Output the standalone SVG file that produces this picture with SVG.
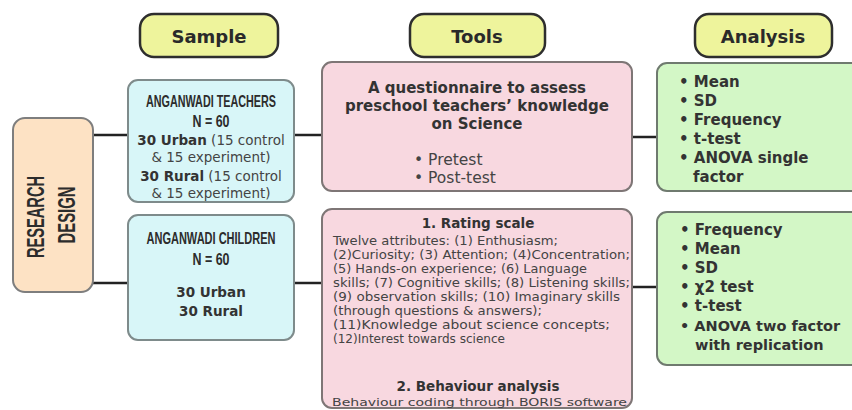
<svg xmlns="http://www.w3.org/2000/svg" width="852" height="410" viewBox="0 0 852 410">
<style>
.hdr{fill:#eef49c;stroke:#2e2e2e;stroke-width:2.5}
.hdrt{font-family:"DejaVu Sans",sans-serif;font-weight:bold;font-size:18px;fill:#2a2a2a;text-anchor:middle}
.samp{fill:#d8f6f8;stroke:#7e8b8b;stroke-width:2}
.rd{fill:#fde2c4;stroke:#7e7e7e;stroke-width:2}
.tool{fill:#f8d8e0;stroke:#7e7676;stroke-width:2}
.ana{fill:#d3f7c6;stroke:#6f7a6f;stroke-width:2}
.cond{font-family:"Liberation Sans",sans-serif;font-weight:bold;fill:#2c2c2c;text-anchor:middle}
.b{font-family:"DejaVu Sans",sans-serif;font-weight:bold;fill:#333}
.r{font-family:"DejaVu Sans",sans-serif;fill:#444}
.c{text-anchor:middle}
.conn line{stroke:#222;stroke-width:2.5}
</style>
<rect width="852" height="410" fill="#ffffff"/>

<g id="hdr-sample"><rect class="hdr" x="140" y="14" width="138" height="43" rx="14"/><text class="hdrt" x="209" y="43">Sample</text></g>
<g id="hdr-tools"><rect class="hdr" x="410" y="14" width="135" height="43" rx="14"/><text class="hdrt" x="477" y="43">Tools</text></g>
<g id="hdr-analysis"><rect class="hdr" x="695" y="14" width="137" height="43" rx="14"/><text class="hdrt" x="763" y="43">Analysis</text></g>

<g class="conn" id="connectors">
<line x1="93" y1="135" x2="128" y2="135"/>
<line x1="93" y1="283" x2="128" y2="283"/>
<line x1="294" y1="135" x2="322" y2="135"/>
<line x1="294" y1="283" x2="322" y2="283"/>
<line x1="632" y1="137" x2="657" y2="137"/>
<line x1="632" y1="287" x2="657" y2="287"/>
</g>

<g id="research-design">
<rect class="rd" x="13" y="118" width="80" height="174" rx="12"/>
<text class="cond" font-size="23" transform="translate(44,217) rotate(-90)" textLength="82" lengthAdjust="spacingAndGlyphs">RESEARCH</text>
<text class="cond" font-size="23" transform="translate(75,215) rotate(-90)" textLength="57" lengthAdjust="spacingAndGlyphs">DESIGN</text>
</g>

<g id="teachers">
<rect class="samp" x="128" y="80" width="166" height="122" rx="10"/>
<text class="cond" font-size="16.5" x="211" y="107" textLength="130" lengthAdjust="spacingAndGlyphs">ANGANWADI TEACHERS</text>
<text class="cond" font-size="16.5" x="211" y="127" textLength="37" lengthAdjust="spacingAndGlyphs">N = 60</text>
<text class="r c" font-size="13.5" x="211" y="145"><tspan class="b">30 Urban</tspan> (15 control</text>
<text class="r c" font-size="13.5" x="211" y="162">&amp; 15 experiment)</text>
<text class="r c" font-size="13.5" x="211" y="181"><tspan class="b">30 Rural</tspan> (15 control</text>
<text class="r c" font-size="13.5" x="211" y="198">&amp; 15 experiment)</text>
</g>

<g id="children">
<rect class="samp" x="128" y="215" width="166" height="125" rx="10"/>
<text class="cond" font-size="16.5" x="211" y="244" textLength="129" lengthAdjust="spacingAndGlyphs">ANGANWADI CHILDREN</text>
<text class="cond" font-size="16.5" x="211" y="265" textLength="37" lengthAdjust="spacingAndGlyphs">N = 60</text>
<text class="b c" font-size="13.5" x="211" y="297">30 Urban</text>
<text class="b c" font-size="13.5" x="211" y="316">30 Rural</text>
</g>

<g id="tool-questionnaire">
<rect class="tool" x="322" y="62" width="310" height="129" rx="10"/>
<text class="b c" font-size="15" x="477" y="93">A questionnaire to assess</text>
<text class="b c" font-size="15" x="477" y="111">preschool teachers’ knowledge</text>
<text class="b c" font-size="15" x="477" y="129">on Science</text>
<text class="r" font-size="15.5" x="414" y="165" fill="#555">•  Pretest</text>
<text class="r" font-size="15.5" x="414" y="183" fill="#555">•  Post-test</text>
</g>

<g id="tool-rating">
<rect class="tool" x="322" y="209" width="310" height="199" rx="10"/>
<text class="b c" font-size="13.5" x="478" y="228">1. Rating scale</text>
<text class="r" font-size="11.5" x="333" y="245" textLength="225" lengthAdjust="spacingAndGlyphs">Twelve attributes: (1) Enthusiasm;</text>
<text class="r" font-size="11.5" x="333" y="259" textLength="297" lengthAdjust="spacingAndGlyphs">(2)Curiosity; (3) Attention; (4)Concentration;</text>
<text class="r" font-size="11.5" x="333" y="273" textLength="254" lengthAdjust="spacingAndGlyphs">(5) Hands-on experience; (6) Language</text>
<text class="r" font-size="11.5" x="333" y="287" textLength="297" lengthAdjust="spacingAndGlyphs">skills; (7) Cognitive skills; (8) Listening skills;</text>
<text class="r" font-size="11.5" x="333" y="301" textLength="287" lengthAdjust="spacingAndGlyphs">(9) observation skills; (10) Imaginary skills</text>
<text class="r" font-size="11.5" x="333" y="315" textLength="209" lengthAdjust="spacingAndGlyphs">(through questions &amp; answers);</text>
<text class="r" font-size="11.5" x="333" y="329" textLength="277" lengthAdjust="spacingAndGlyphs">(11)Knowledge about science concepts;</text>
<text class="r" font-size="11.5" x="333" y="343" textLength="172" lengthAdjust="spacingAndGlyphs">(12)Interest towards science</text>
<text class="b c" font-size="13.5" x="478" y="391">2. Behaviour analysis</text>
<text class="r" font-size="10.5" x="332" y="406" textLength="295" lengthAdjust="spacingAndGlyphs">Behaviour coding through BORIS software</text>
</g>

<g id="analysis-teachers">
<rect class="ana" x="657" y="63" width="205" height="128" rx="10"/>
<text class="b" font-size="15" x="679" y="87">•  Mean</text>
<text class="b" font-size="15" x="679" y="106">•  SD</text>
<text class="b" font-size="15" x="679" y="125">•  Frequency</text>
<text class="b" font-size="15" x="679" y="144">•  t-test</text>
<text class="b" font-size="15" x="679" y="163">•  ANOVA single</text>
<text class="b" font-size="15" x="693" y="182">factor</text>
</g>

<g id="analysis-children">
<rect class="ana" x="657" y="212" width="205" height="153" rx="10"/>
<text class="b" font-size="15" x="680" y="235">•  Frequency</text>
<text class="b" font-size="15" x="680" y="254">•  Mean</text>
<text class="b" font-size="15" x="680" y="273">•  SD</text>
<text class="b" font-size="15" x="680" y="292">•  χ2 test</text>
<text class="b" font-size="15" x="680" y="311">•  t-test</text>
<text class="b" font-size="14.5" x="680" y="331">•  ANOVA two factor</text>
<text class="b" font-size="14.5" x="695" y="350">with replication</text>
</g>
</svg>
